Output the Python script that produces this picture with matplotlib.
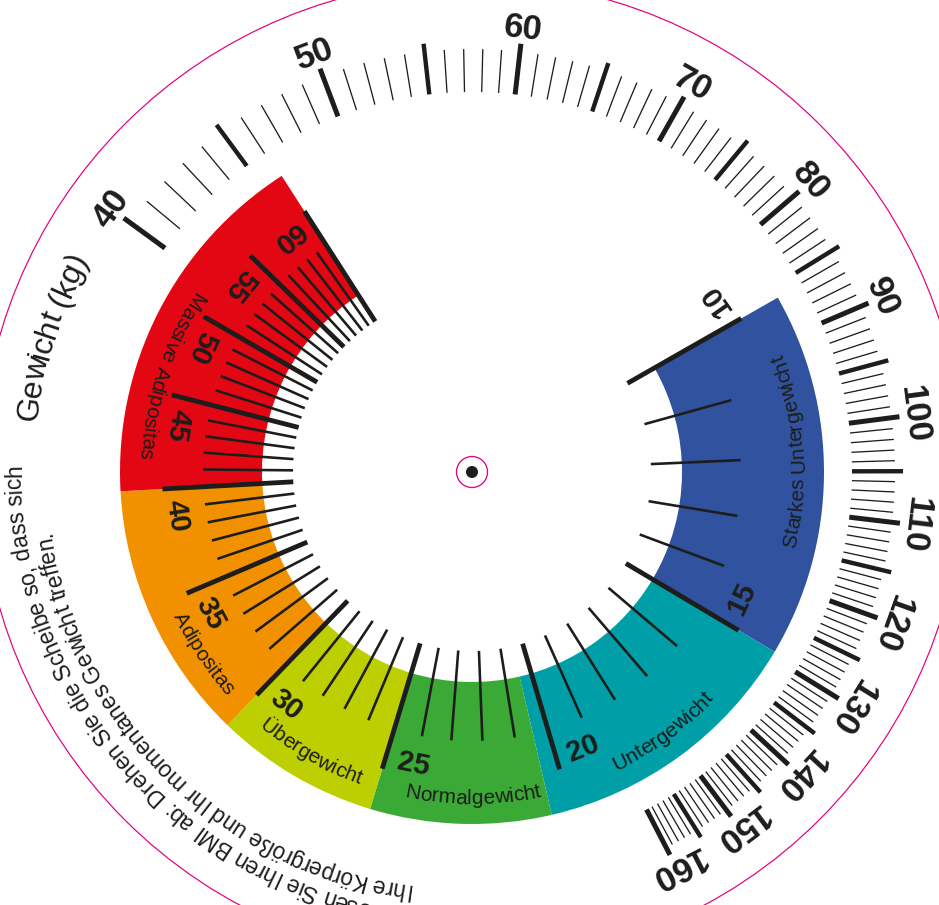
import numpy as np
import matplotlib
matplotlib.use("Agg")
import matplotlib.pyplot as plt
from matplotlib.patches import Wedge, Circle
from matplotlib.collections import LineCollection
from matplotlib.font_manager import FontProperties, findfont, get_font
from matplotlib.ft2font import LoadFlags

# --- chart content ---
weight_min, weight_max = 40, 160
weight_labels = [40, 50, 60, 70, 80, 90, 100, 110, 120, 130, 140, 150, 160]
bmi_min, bmi_max = 10, 60
bmi_labels = [10, 15, 20, 25, 30, 35, 40, 45, 50, 55, 60]
band_edges = [10, 15, 20.45, 25, 30, 40, 60]
band_names = ["Starkes Untergewicht", "Untergewicht", "Normalgewicht",
              "Übergewicht", "Adipositas", "Massive Adipositas"]
band_label_bmi = [11.9, 17.5, 22.3, 27.3, 32.5, 46.0]
band_colors = ["#30529f", "#009ea7", "#3aa935", "#bdcf00", "#f29100", "#e30613"]
axis_title = "Gewicht (kg)"
instr_line1 = "So lesen Sie Ihren BMI ab: Drehen Sie die Scheibe so, dass sich"
instr_line2 = "Ihre Körpergröße und Ihr momentanes Gewicht treffen."

INK = "#1d1d1b"
PINK = "#e5007d"
FONT = "Liberation Sans"
W, H = 939, 905
CX, CY = 472, H - 472
PT = 0.72  # points per pixel at dpi 100
K = 149.0  # degrees per ln unit (slide rule scale)


def ang_w(w):
    return 143.9 - K * np.log(np.asarray(w, float) / weight_min)


def ang_b(b):
    return 29.7 - K * np.log(np.asarray(b, float) / bmi_min)


def pol(r, t, c=(CX, CY)):
    t = np.radians(t)
    return c[0] + r * np.cos(t), c[1] + r * np.sin(t)


fig = plt.figure(figsize=(W / 100, H / 100), dpi=100)
ax = fig.add_axes([0, 0, 1, 1])
ax.set_xlim(0, W)
ax.set_ylim(0, H)
ax.axis("off")


def advances(s, size, weight="normal"):
    font = get_font(findfont(FontProperties(family=FONT, weight=weight)))
    font.set_size(size, 100)
    return np.array([font.load_char(ord(c), flags=LoadFlags.NO_HINTING).linearHoriAdvance / 65536
                     for c in s])


def arc_text(s, r, size, t_start=None, t_end=None, t_center=None, cw=True, k=0,
             weight="normal", c=(CX, CY)):
    adv = advances(s, size, weight)
    cum = np.concatenate([[0], np.cumsum(adv)])
    mid = cum[:-1] + adv / 2
    sign = -1 if cw else 1
    if t_center is not None:
        half = np.degrees(cum[-1] / r) / 2
        t_start, t_end = t_center - sign * half, t_center + sign * half
    dpp = (t_end - t_start) / (cum[-1] - cum[k])
    for ch, m in zip(s, mid):
        if ch == " ":
            continue
        t = t_start + (m - cum[k]) * dpp
        x, y = pol(r, t, c)
        ax.text(x, y, ch, fontsize=size, rotation=(t - 90) if cw else (t + 90),
                rotation_mode="anchor", ha="center", va="baseline",
                family=FONT, weight=weight, color=INK)


# outer pink rim and centre pin
ax.add_patch(Circle((CX, CY), 491.5, fill=False, ec=PINK, lw=1.2 * PT))
ax.add_patch(Circle((CX, CY), 15.5, fill=False, ec=PINK, lw=1.3 * PT))
ax.add_patch(Circle((CX, CY), 6, fc=INK, ec="none"))

# coloured BMI bands
for lo, hi, col in zip(band_edges[:-1], band_edges[1:], band_colors):
    ax.add_patch(Wedge((CX, CY), 352, float(ang_b(hi)), float(ang_b(lo)), width=142,
                       fc=col, ec="none"))

# BMI ticks
segs, lws = [], []
for b in range(bmi_min, bmi_max + 1):
    t = ang_b(b)
    major = b % 5 == 0
    segs.append([pol(179, t), pol(310 if major else 269, t)])
    lws.append((4.8 if major else 2.6) * PT)
ax.add_collection(LineCollection(segs, colors=INK, linewidths=lws, capstyle="butt"))

for b in bmi_labels:
    t = ang_b(b) + 5.4
    x, y = pol(298, t)
    ax.text(x, y, str(b), fontsize=21, weight="bold", family=FONT, color=INK,
            rotation=t + 90, rotation_mode="anchor", ha="center", va="center")

# band names
for name, b in zip(band_names, band_label_bmi):
    arc_text(name, 332, 15, t_center=float(ang_b(b)), cw=False)

# weight ticks
segs, lws = [], []
for w in range(weight_min, weight_max + 1):
    t = ang_w(w)
    major = w % 5 == 0
    segs.append([pol(380, t), pol(431 if major else 423, t)])
    lws.append((5.0 if w % 10 == 0 else 4.4 if major else 1.3) * PT)
ax.add_collection(LineCollection(segs, colors=INK, linewidths=lws, capstyle="butt"))

for w in weight_labels:
    t = ang_w(w)
    x, y = pol(446, t)
    ax.text(x, y, str(w), fontsize=25, weight="bold", family=FONT, color=INK,
            rotation=t - 90, rotation_mode="anchor", ha="center", va="center")

# axis title and instructions along the rim
arc_text(axis_title, 438, 23, t_start=173.4, t_end=151.2, cw=True)
tc = (CX - 5, CY + 5)
arc_text(instr_line1, 446, 16.5, t_start=-109.5, t_end=-180.3, cw=True,
         k=instr_line1.index("Sie"), c=tc)
arc_text(instr_line2, 421, 16.5, t_start=-97.7, t_end=-171.4, cw=True, c=tc)

fig.savefig("out.png", dpi=100)
